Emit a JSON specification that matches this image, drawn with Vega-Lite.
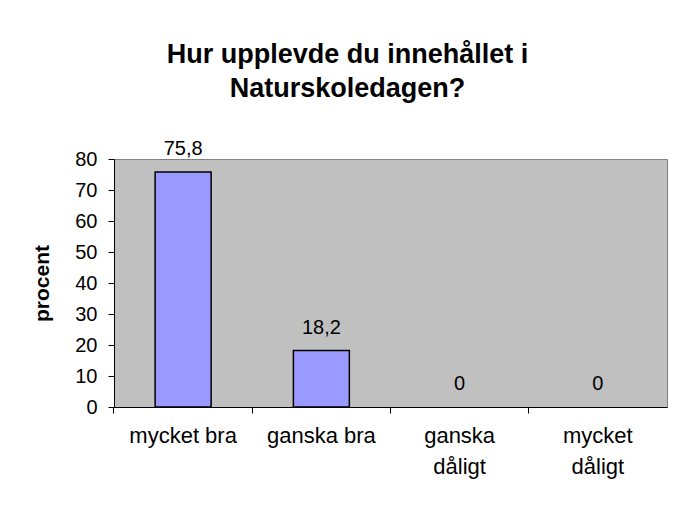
{
  "$schema": "https://vega.github.io/schema/vega-lite/v6.json",
  "autosize": "none",
  "width": 553,
  "height": 248,
  "padding": {"left": 114, "top": 159, "right": 10, "bottom": 99},
  "background": "white",
  "title": {
    "text": ["Hur upplevde du innehållet i", "Naturskoledagen?"],
    "font": "Liberation Sans",
    "fontSize": 27,
    "fontWeight": "bold",
    "color": "black",
    "anchor": "middle",
    "frame": "group",
    "dx": -43,
    "offset": 36,
    "lineHeight": 34
  },
  "data": {
    "values": [
      {"kategori": "mycket bra", "procent": 75.8},
      {"kategori": "ganska bra", "procent": 18.2},
      {"kategori": "ganska dåligt", "procent": 0},
      {"kategori": "mycket dåligt", "procent": 0}
    ]
  },
  "transform": [
    {"calculate": "replace(format(datum.procent, '.1~f'), '.', ',')", "as": "etikett"}
  ],
  "encoding": {
    "x": {
      "field": "kategori",
      "type": "nominal",
      "sort": null,
      "scale": {"paddingInner": 0.595, "paddingOuter": 0.2975},
      "axis": {
        "title": null,
        "labelAngle": 0,
        "bandPosition": -0.735,
        "domainColor": "black",
        "tickColor": "black",
        "tickSize": 6,
        "labelFont": "Liberation Sans",
        "labelFontSize": 22,
        "labelColor": "black",
        "labelPadding": 12,
        "labelLineHeight": 31,
        "labelExpr": "indexof(datum.value, 'dåligt') > 0 ? split(datum.value, ' ') : datum.value"
      }
    },
    "y": {
      "field": "procent",
      "type": "quantitative",
      "scale": {"domain": [0, 80], "nice": false},
      "axis": {
        "title": "procent",
        "values": [0, 10, 20, 30, 40, 50, 60, 70, 80],
        "grid": false,
        "domainColor": "black",
        "tickColor": "black",
        "tickSize": 6,
        "labelPadding": 11,
        "labelFont": "Liberation Sans",
        "labelFontSize": 20,
        "labelColor": "black",
        "titleFont": "Liberation Sans",
        "titleFontSize": 21,
        "titleFontWeight": "bold",
        "titleColor": "black",
        "titlePadding": 22
      }
    }
  },
  "layer": [
    {
      "mark": {"type": "bar", "color": "#9999FF", "strokeWidth": 1.5},
      "encoding": {
        "stroke": {"condition": {"test": "datum.procent > 0", "value": "black"}, "value": null}
      }
    },
    {
      "mark": {"type": "text", "baseline": "alphabetic", "dy": -17, "font": "Liberation Sans", "fontSize": 20, "color": "black"},
      "encoding": {
        "text": {"field": "etikett", "type": "nominal"}
      }
    }
  ],
  "config": {
    "font": "Liberation Sans",
    "view": {"fill": "#C0C0C0", "stroke": "#808080", "strokeWidth": 1}
  }
}
